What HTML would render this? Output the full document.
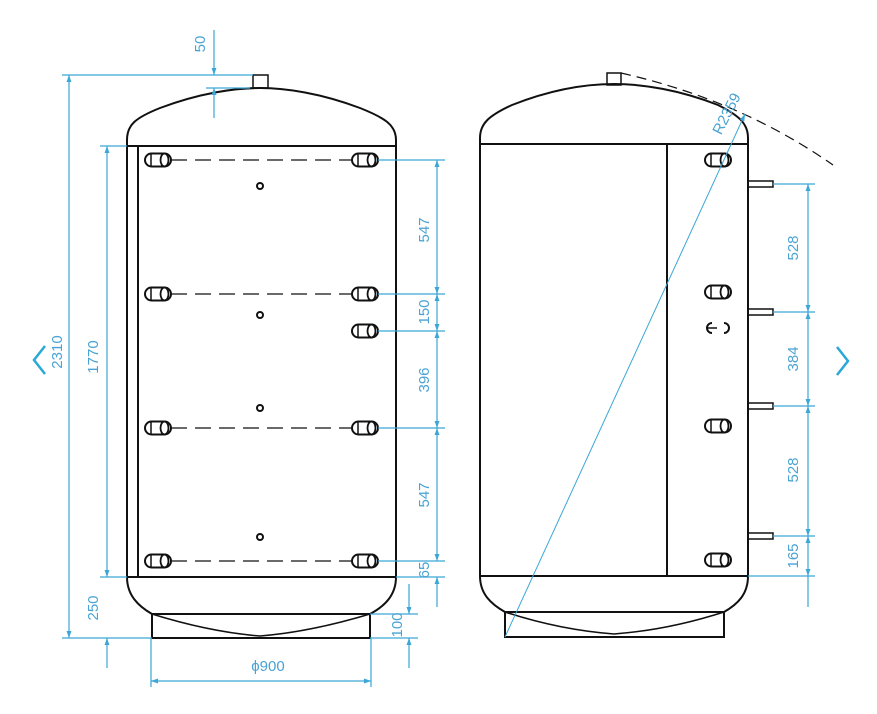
<!DOCTYPE html>
<html><head><meta charset="utf-8"><style>
html,body{margin:0;padding:0;background:#fff;}
svg{display:block;}
text{font-family:"Liberation Sans",sans-serif;font-size:15px;fill:#4aa3d3;}
</style></head><body>
<svg width="877" height="714" viewBox="0 0 877 714" xmlns="http://www.w3.org/2000/svg">
<defs>
<marker id="a" viewBox="0 0 10 10" refX="10" refY="5" markerWidth="11" markerHeight="7" orient="auto-start-reverse" markerUnits="userSpaceOnUse"><path d="M0,1.5 L10,5 L0,8.5 z" fill="#3aa7d6"/></marker>
<g id="ring"><rect x="0" y="-6.5" width="26" height="13" rx="6.5" fill="none" stroke="#111" stroke-width="2"/><ellipse cx="19.5" cy="0" rx="4" ry="6.5" fill="none" stroke="#111" stroke-width="1.8"/><line x1="6" y1="-6" x2="6" y2="6" stroke="#111" stroke-width="1.5"/></g>
</defs>

<!-- LEFT TANK -->
<g fill="none" stroke="#111" stroke-width="2">
<path d="M127,577 L127,140 C127,125 135,118 160,108 C200,93 235,88 260,88 C285,88 320,93 360,108 C385,118 396,125 396,140 L396,577"/>
<line x1="127" y1="146" x2="396" y2="146"/>
<line x1="138" y1="146" x2="138" y2="577"/>
<line x1="127" y1="577" x2="396" y2="577"/>
<path d="M127,577 C127,595 138,606 152,614 L370,614 C385,606 396,595 396,577"/>
<rect x="152" y="614" width="218" height="24"/>
<path d="M152,614 Q210,632 260,636 Q310,632 370,614" stroke-width="1.5"/>
<rect x="253" y="75" width="15" height="13" stroke-width="1.5"/>
</g>
<g stroke="#111" stroke-width="1.2" stroke-dasharray="16,8">
<line x1="171" y1="160" x2="351" y2="160"/><line x1="171" y1="294" x2="351" y2="294"/>
<line x1="171" y1="428" x2="351" y2="428"/><line x1="171" y1="561" x2="351" y2="561"/>
</g>
<use href="#ring" x="145" y="160"/><use href="#ring" x="145" y="294"/><use href="#ring" x="145" y="428"/><use href="#ring" x="145" y="561"/>
<use href="#ring" x="352" y="160"/><use href="#ring" x="352" y="294"/><use href="#ring" x="352" y="331"/><use href="#ring" x="352" y="428"/><use href="#ring" x="352" y="561"/>
<g fill="none" stroke="#111" stroke-width="2">
<circle cx="260" cy="186" r="3"/><circle cx="260" cy="315" r="3"/><circle cx="260" cy="408" r="3"/><circle cx="260" cy="537" r="3"/>
</g>

<!-- LEFT DIMENSIONS -->
<g stroke="#3aa7d6" stroke-width="1.2" fill="none">
<line x1="62" y1="75" x2="253" y2="75"/>
<line x1="62" y1="638" x2="152" y2="638"/>
<line x1="100" y1="146" x2="127" y2="146"/>
<line x1="100" y1="577" x2="127" y2="577"/>
<line x1="69" y1="75" x2="69" y2="638" marker-start="url(#a)" marker-end="url(#a)"/>
<line x1="107" y1="146" x2="107" y2="577" marker-start="url(#a)" marker-end="url(#a)"/>
<line x1="107" y1="668" x2="107" y2="638" marker-end="url(#a)"/>
<line x1="214" y1="30" x2="214" y2="75" marker-end="url(#a)"/>
<line x1="214" y1="118" x2="214" y2="88" marker-end="url(#a)"/>
<line x1="206" y1="88" x2="250" y2="88"/>
<line x1="378" y1="160" x2="445" y2="160"/><line x1="378" y1="294" x2="445" y2="294"/>
<line x1="378" y1="331" x2="445" y2="331"/><line x1="378" y1="428" x2="445" y2="428"/>
<line x1="378" y1="561" x2="445" y2="561"/><line x1="396" y1="577" x2="445" y2="577"/>
<line x1="437" y1="160" x2="437" y2="294" marker-start="url(#a)" marker-end="url(#a)"/>
<line x1="437" y1="294" x2="437" y2="331" marker-start="url(#a)" marker-end="url(#a)"/>
<line x1="437" y1="331" x2="437" y2="428" marker-start="url(#a)" marker-end="url(#a)"/>
<line x1="437" y1="428" x2="437" y2="561" marker-start="url(#a)" marker-end="url(#a)"/>
<line x1="437" y1="607" x2="437" y2="577" marker-end="url(#a)"/>
<line x1="370" y1="614" x2="418" y2="614"/><line x1="370" y1="638" x2="418" y2="638"/>
<line x1="409" y1="584" x2="409" y2="614" marker-end="url(#a)"/>
<line x1="409" y1="668" x2="409" y2="638" marker-end="url(#a)"/>
<line x1="151" y1="638" x2="151" y2="687"/><line x1="371" y1="638" x2="371" y2="687"/>
<line x1="151" y1="681" x2="371" y2="681" marker-start="url(#a)" marker-end="url(#a)"/>
</g>
<text transform="translate(62,352) rotate(-90)" text-anchor="middle">2310</text>
<text transform="translate(98,357) rotate(-90)" text-anchor="middle">1770</text>
<text transform="translate(98,608) rotate(-90)" text-anchor="middle">250</text>
<text transform="translate(205,44) rotate(-90)" text-anchor="middle">50</text>
<text transform="translate(429,230) rotate(-90)" text-anchor="middle">547</text>
<text transform="translate(429,312) rotate(-90)" text-anchor="middle">150</text>
<text transform="translate(429,380) rotate(-90)" text-anchor="middle">396</text>
<text transform="translate(429,495) rotate(-90)" text-anchor="middle">547</text>
<text transform="translate(429,570) rotate(-90)" text-anchor="middle">65</text>
<text transform="translate(402,625) rotate(-90)" text-anchor="middle">100</text>
<text x="268" y="671" text-anchor="middle">&#981;900</text>

<!-- RIGHT TANK -->
<g fill="none" stroke="#111" stroke-width="2">
<path d="M480,576 L480,138 C480,124 488,116 512,105 C550,90 585,84 614,84 C643,84 680,90 718,105 C740,116 748,124 748,138 L748,576"/>
<line x1="480" y1="144" x2="748" y2="144"/>
<line x1="667" y1="144" x2="667" y2="576"/>
<line x1="480" y1="576" x2="748" y2="576"/>
<path d="M480,576 C480,594 491,604 505,612 L724,612 C738,604 748,594 748,576"/>
<rect x="505" y="612" width="219" height="25"/>
<path d="M505,612 Q560,630 614,634 Q668,630 724,612" stroke-width="1.5"/>
<rect x="607" y="73" width="14" height="12" stroke-width="1.5"/>
<rect x="748" y="181" width="25" height="6" stroke-width="1.5"/>
<rect x="748" y="309" width="25" height="6" stroke-width="1.5"/>
<rect x="748" y="403" width="25" height="6" stroke-width="1.5"/>
<rect x="748" y="533" width="25" height="6" stroke-width="1.5"/>
<path d="M712,323 a5,5 0 1,0 0,10" stroke-width="2"/><line x1="707" y1="328" x2="717" y2="328" stroke-width="1.5"/>
<path d="M724,323 a5,5 0 1,1 0,10" stroke-width="2"/>
</g>
<use href="#ring" x="705" y="160"/><use href="#ring" x="705" y="292"/><use href="#ring" x="705" y="426"/><use href="#ring" x="705" y="560"/>
<path d="M621,73 Q740,100 833,165" fill="none" stroke="#111" stroke-width="1.2" stroke-dasharray="10,6"/>
<g stroke="#3aa7d6" stroke-width="1.2" fill="none">
<line x1="505" y1="637" x2="745" y2="114" stroke-width="1" marker-end="url(#a)"/>
<line x1="773" y1="184" x2="815" y2="184"/><line x1="773" y1="312" x2="815" y2="312"/>
<line x1="773" y1="406" x2="815" y2="406"/><line x1="773" y1="536" x2="815" y2="536"/>
<line x1="748" y1="576" x2="815" y2="576"/>
<line x1="808" y1="184" x2="808" y2="312" marker-start="url(#a)" marker-end="url(#a)"/>
<line x1="808" y1="312" x2="808" y2="406" marker-start="url(#a)" marker-end="url(#a)"/>
<line x1="808" y1="406" x2="808" y2="536" marker-start="url(#a)" marker-end="url(#a)"/>
<line x1="808" y1="536" x2="808" y2="576" marker-start="url(#a)" marker-end="url(#a)"/>
<line x1="808" y1="607" x2="808" y2="576"/>
</g>
<text transform="translate(798,248) rotate(-90)" text-anchor="middle">528</text>
<text transform="translate(798,359) rotate(-90)" text-anchor="middle">384</text>
<text transform="translate(798,470) rotate(-90)" text-anchor="middle">528</text>
<text transform="translate(798,556) rotate(-90)" text-anchor="middle">165</text>
<text transform="translate(731,116) rotate(-63)" text-anchor="middle">R2359</text>

<polyline points="45,346 34,360 45,374" fill="none" stroke="#2aa8d8" stroke-width="2.5"/>
<polyline points="837,347 848,361 837,375" fill="none" stroke="#2aa8d8" stroke-width="2.5"/>
</svg>
</body></html>
